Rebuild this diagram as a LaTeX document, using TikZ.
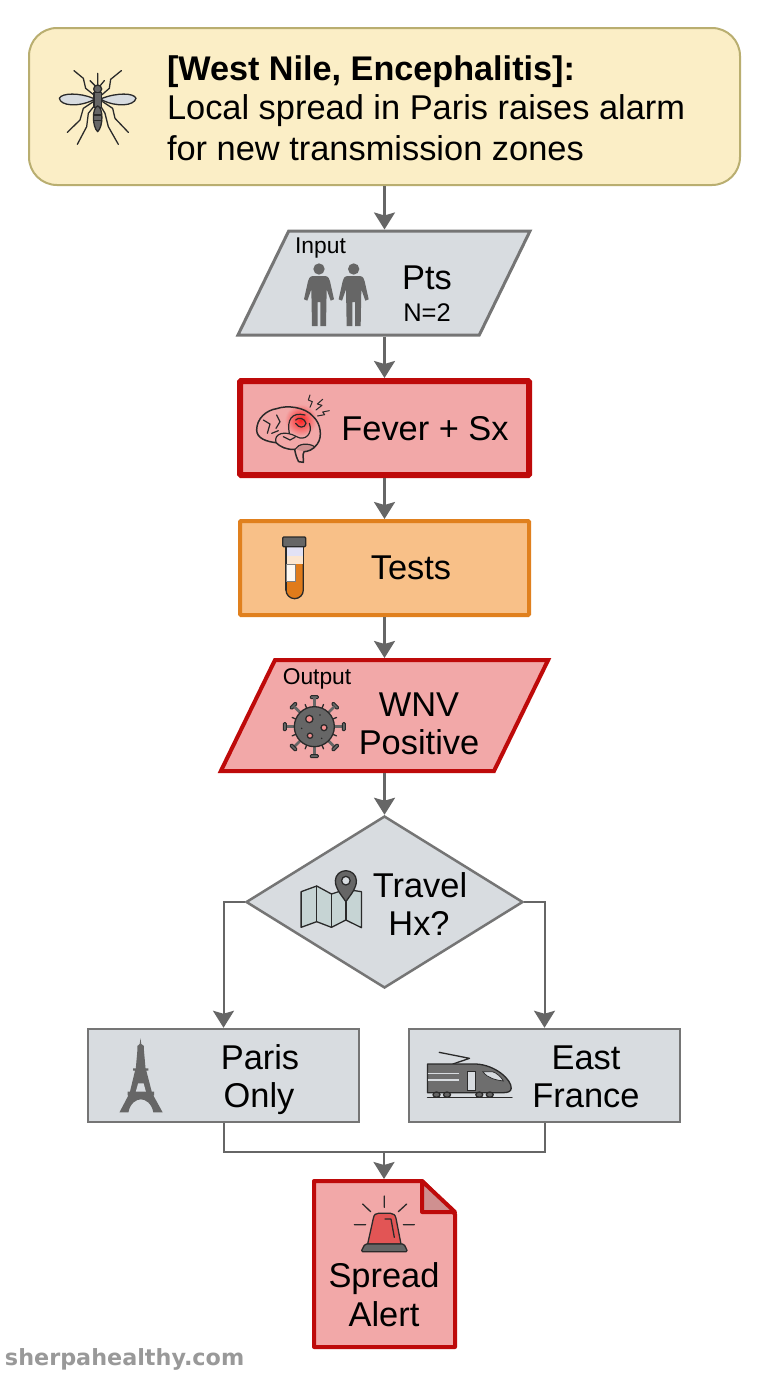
\documentclass[tikz,border=0pt]{standalone}
\usepackage{fontspec}
\setmainfont{Liberation Sans}
\newfontfamily\markfont{DejaVu Sans}
\usetikzlibrary{arrows.meta,shapes.geometric}
\definecolor{hdrfill}{HTML}{FBEEC6}
\definecolor{hdrline}{HTML}{B9AE70}
\definecolor{greyfill}{HTML}{D8DCE0}
\definecolor{greyline}{HTML}{757575}
\definecolor{redfill}{HTML}{F2A8A8}
\definecolor{redline}{HTML}{BE0A0A}
\definecolor{orgfill}{HTML}{F8C088}
\definecolor{orgline}{HTML}{E0801E}
\definecolor{icongrey}{HTML}{666666}
\definecolor{iconink}{HTML}{2A2A2A}
\definecolor{linkgrey}{HTML}{666666}
\definecolor{foldfill}{HTML}{CF9090}
\definecolor{mapfill}{HTML}{C6D4D4}
\definecolor{tubefill}{HTML}{E07B1A}
\definecolor{domefill}{HTML}{E25555}
\definecolor{brainfill}{HTML}{F7C4C0}
\tikzset{
  x=1pt,y=-1pt,
  every node/.style={inner sep=0pt,outer sep=0pt,text=black},
  greybox/.style={rectangle,draw=greyline,fill=greyfill,line width=2.5pt,minimum width=271pt,minimum height=93pt,outer sep=1.25pt},
  redbox/.style={rectangle,draw=redline,fill=redfill,line width=6pt,minimum width=289pt,minimum height=94pt,outer sep=3pt,rounded corners=1pt},
  orgbox/.style={rectangle,draw=orgline,fill=orgfill,line width=4pt,minimum width=289pt,minimum height=94pt,outer sep=2pt,rounded corners=1pt},
  para/.style={trapezium,trapezium left angle=64,trapezium right angle=116},
  link/.style={draw=linkgrey,line width=2.5pt},
  thinlink/.style={draw=linkgrey,line width=2pt},
  tipped/.style={-{Stealth[length=17pt,width=21pt,inset=3pt]}},
  arrowlink/.style={link,tipped},
  big/.style={anchor=base,font=\fontsize{34.4}{40}\selectfont},
  small/.style={anchor=base,font=\fontsize{22.8}{28}\selectfont},
  ink/.style={draw=iconink,line width=1.3pt,line join=round,line cap=round},
}
\begin{document}
\begin{tikzpicture}
\useasboundingbox (0,0) rectangle (768,1376);
\fill[white] (0,0) rectangle (768,1376);
% nodes
\node[rectangle,rounded corners=28pt,draw=hdrline,fill=hdrfill,line width=2pt,minimum width=711pt,minimum height=157pt,outer sep=1pt] (hdr) at (384.5,106.5) {};
\node[para,draw=greyline,fill=greyfill,line width=3pt,outer sep=1.5pt] (input) at (384,283) {\phantom{\rule{190.6pt}{104pt}}};
\node[redbox] (fever) at (384.5,428) {};
\node[orgbox] (tests) at (384.5,568) {};
\node[para,draw=redline,fill=redfill,line width=4pt,outer sep=2pt] (output) at (384.5,715.5) {\phantom{\rule{219pt}{111pt}}};
\node[diamond,aspect=1.61,draw=greyline,fill=greyfill,line width=2.5pt,minimum width=277pt,minimum height=172pt,outer sep=1.25pt] (travel) at (384.5,902) {};
\node[greybox] (paris) at (223.5,1075.5) {};
\node[greybox] (east) at (544.5,1075.5) {};
\node[rectangle,minimum width=141pt,minimum height=167pt,outer sep=2pt] (alert) at (384.5,1264.5) {};
\coordinate (merge) at (384,1152);
% alert page
\draw[draw=redline,fill=redfill,line width=4pt,line join=round]
  (314,1181) -- (422,1181) -- (455,1214) -- (455,1347) -- (314,1347) -- cycle;
\draw[draw=redline,fill=foldfill,line width=4pt,line join=round]
  (422,1181) -- (422,1212) -- (455,1212) -- cycle;
% connectors
\draw[arrowlink] (hdr.south) -- (hdr.south |- input.north);
\draw[arrowlink] (input.south -| hdr.south) -- (fever.north -| hdr.south);
\draw[arrowlink] (fever.south) -- (tests.north);
\draw[arrowlink] (tests.south) -- (tests.south |- output.north);
\draw[arrowlink] (tests.south |- output.south) -- (travel.north);
\draw[thinlink,tipped] (travel.west) -| (paris.north);
\draw[thinlink,tipped] (travel.east) -| (east.north);
\draw[thinlink] (paris.south) |- (merge);
\draw[thinlink] (east.south) |- (merge);
\draw[arrowlink] (merge) -- (merge |- alert.north);
% header text
\node[anchor=base west,font=\bfseries\fontsize{34.2}{40}\selectfont] (h1) at (167,80) {[West Nile, Encephalitis]:};
\node[anchor=base west,font=\fontsize{34.4}{40}\selectfont] (h2) at (167,119.5) {Local spread in Paris raises alarm};
\node[anchor=base west,font=\fontsize{34.4}{40}\selectfont] (h3) at (167,160.5) {for new transmission zones};
% labels
\node[small] (t1) at (320.5,253) {Input};
\node[big] (t2) at (427,289) {Pts};
\node[anchor=base,font=\fontsize{25.5}{30}\selectfont] (t3) at (427,321) {N=2};
\node[big] (t4) at (425,440) {Fever + Sx};
\node[big] (t5) at (411,579) {Tests};
\node[small] (t6) at (317,684) {Output};
\node[big] (t7) at (419,716) {WNV};
\node[big] (t8) at (419,754) {Positive};
\node[big] (t9) at (420,897) {Travel};
\node[big] (t10) at (419,935) {Hx?};
\node[big] (t11) at (260,1069) {Paris};
\node[big] (t12) at (259,1107) {Only};
\node[big] (t13) at (586,1069) {East};
\node[big] (t14) at (586,1107) {France};
\node[big] (t15) at (384,1287) {Spread};
\node[big] (t16) at (384,1326) {Alert};
\node[anchor=base west,text=black!40,font=\markfont\bfseries\fontsize{22.3}{26}\selectfont] (wm) at (5,1365) {sherpahealthy.com};
% mosquito
\begin{scope}[shift={(20,20)},scale=1/3]
  \filldraw[ink,fill=greyfill] (220,235) .. controls (180,218) and (125,218) .. (118,235) .. controls (122,258) and (175,262) .. (220,240) -- cycle;
  \filldraw[ink,fill=greyfill] (246,235) .. controls (290,218) and (342,218) .. (348,235) .. controls (342,258) and (290,262) .. (246,240) -- cycle;
  \draw[ink] (162,152) -- (190,175) -- (197,205) -- (222,225);
  \draw[ink] (304,152) -- (272,178) -- (268,205) -- (245,225);
  \draw[ink] (142,337) -- (180,300) -- (190,265) -- (220,245);
  \draw[ink] (325,337) -- (285,295) -- (278,265) -- (248,245);
  \draw[ink] (172,373) -- (200,320) -- (205,280) -- (225,255);
  \draw[ink] (295,373) -- (265,320) -- (255,280) -- (240,255);
  \draw[ink] (233,160) -- (233,200) (210,182) -- (228,200) (253,182) -- (238,200);
  \filldraw[ink,fill=icongrey] (233,207) circle (12);
  \filldraw[ink,fill=icongrey] (222,218) rectangle (244,262);
  \filldraw[ink,fill=icongrey] (233,258) .. controls (216,262) and (216,320) .. (233,335) .. controls (250,320) and (250,262) .. (233,258) -- cycle;
  \draw[ink] (221,285) -- (245,285) (221,302) -- (245,302);
\end{scope}
% people
\begin{scope}[shift={(230,220)},scale=1/3]
  \foreach \dx in {0,104}{
    \begin{scope}[xshift=\dx pt]
      \fill[icongrey] (267,147) circle (17);
      \fill[icongrey] (248,168) -- (286,168) .. controls (296,170) and (298,176) .. (300,184) -- (312,238) -- (302,242) -- (290,208) -- (288,318) -- (271,318) -- (271,246) -- (263,246) -- (263,318) -- (246,318) -- (244,208) -- (232,242) -- (222,238) -- (234,184) .. controls (236,176) and (238,170) .. (248,168) -- cycle;
    \end{scope}
  }
\end{scope}
% brain
\begin{scope}[shift={(230,220)},scale=1/3]
  \shade[inner color=red!80!redfill,outer color=redfill] (212,600) circle (48);
  \fill[foldfill] (196,686) .. controls (205,672) and (235,668) .. (254,680) .. controls (240,694) and (215,698) .. (196,686) -- cycle;
  \draw[ink,line width=1.5pt] (80,630) .. controls (80,595) and (110,570) .. (140,566) .. controls (170,555) and (225,560) .. (250,590) .. controls (272,610) and (278,650) .. (262,672) .. controls (250,690) and (232,695) .. (222,695) .. controls (216,705) and (222,720) .. (220,727) -- (206,725) .. controls (200,715) and (196,700) .. (194,688) .. controls (170,690) and (150,680) .. (138,668) .. controls (110,665) and (80,655) .. (80,630) -- cycle;
  \draw[ink,line width=1.2pt]
    (178,640) .. controls (170,600) and (185,575) .. (225,585)
    (138,668) .. controls (130,640) and (165,630) .. (200,650) .. controls (225,665) and (250,640) .. (238,610)
    (195,688) .. controls (205,670) and (235,668) .. (254,680)
    (100,600) -- (120,612) -- (112,640) (140,585) -- (150,605) -- (138,625)
    (160,650) -- (180,660) -- (195,652) (125,640) -- (145,632)
    (197,600) .. controls (205,590) and (225,595) .. (228,610) .. controls (225,625) and (205,625) .. (197,610);
  \draw[ink,line width=1pt] (240,525) -- (235,540) -- (247,545) -- (240,562)
    (278,538) -- (262,552) -- (276,556) -- (258,570)
    (298,572) -- (278,576) -- (284,584) -- (262,588);
\end{scope}
% test tube
\begin{scope}[shift={(210,515)},scale=1/3]
  \filldraw[ink,fill=tubefill] (228,95) -- (280,95) -- (280,225) arc[start angle=0,end angle=180,radius=26] -- cycle;
  \filldraw[ink,fill=blue!8!white!92!gray] (228,95) rectangle (280,124);
  \fill[white!60!orgfill] (228,124) rectangle (280,148);
  \draw[ink] (228,124) -- (228,225) (280,124) -- (280,225);
  \filldraw[draw=black!50,fill=white!90!orgfill,line width=.6pt] (228,148) rectangle (255,198);
  \filldraw[ink,fill=icongrey,rounded corners=1pt] (218,66) rectangle (287,95);
\end{scope}
% virus
\begin{scope}[shift={(210,515)},scale=1/3]
  \foreach \a in {0,45,...,315}{
    \draw[draw=icongrey,line width=2.8pt] (313,635) ++(\a:55) -- ++(\a:30);
    \draw[ink,fill=icongrey,line width=1pt,rotate around={\a:(313,635)},rounded corners=1pt] (397,623) rectangle (406,647);
  }
  \foreach \a in {22.5,67.5,...,337.5}{
    \draw[ink] (313,635) ++(\a:58) -- ++(\a:14);
  }
  \filldraw[ink,fill=icongrey] (313,635) circle (60);
  \filldraw[ink,fill=redfill!85!red] (298,612) circle (11);
  \filldraw[ink,fill=redfill!85!red] (342,638) circle (9);
  \filldraw[ink,fill=redfill!85!red] (300,662) circle (8);
  \fill[iconink] (330,600) circle (2.5) (275,640) circle (2.5) (335,670) circle (2.5);
\end{scope}
% map
\begin{scope}[shift={(79.4,810)},xscale=.389,yscale=1/3]
  \filldraw[ink,fill=mapfill] (570,245) -- (610,228) -- (648,252) -- (685,238) -- (725,245) -- (725,353) -- (685,330) -- (648,352) -- (610,335) -- (570,352) -- cycle;
  \draw[ink] (610,228) -- (610,335) (648,252) -- (648,352) (685,275) -- (685,330);
  \filldraw[ink,fill=icongrey] (685,275) .. controls (670,250) and (658,235) .. (658,212) arc[start angle=180,end angle=360,x radius=27,y radius=30] .. controls (712,235) and (700,250) .. (685,275) -- cycle;
  \filldraw[ink,fill=greyfill] (685,212) ellipse (11 and 13);
\end{scope}
% Eiffel tower
\begin{scope}[shift={(79.4,810)},xscale=.389,yscale=1/3]
  \fill[icongrey] (157,685) -- (159,702) -- (166,708) -- (166,722) -- (170,775) -- (177,775) -- (177,782) -- (172,782) -- (186,845) -- (192,845) -- (192,856) -- (190,856) -- (214,907) -- (190,907) .. controls (186,880) and (170,868) .. (158,868) .. controls (146,868) and (130,880) .. (126,907) -- (103,907) -- (126,856) -- (124,856) -- (124,845) -- (130,845) -- (143,782) -- (138,782) -- (138,775) -- (145,775) -- (149,722) -- (149,708) -- (155,702) -- cycle;
  \fill[greyfill] (151,820) -- (165,820) -- (171,845) -- (145,845) -- cycle;
\end{scope}
% train
\begin{scope}[shift={(79.4,810)},xscale=.389,yscale=1/3]
  \draw[ink] (925,727) -- (1003,745) -- (960,762);
  \filldraw[ink,fill=icongrey!95!white] (895,762) -- (1020,762) .. controls (1070,765) and (1112,810) .. (1110,835) .. controls (1110,845) and (1100,848) .. (1090,848) -- (895,848) -- cycle;
  \draw[line width=1.4pt,draw=greyfill] (895,790) -- (975,790) (895,810) -- (975,810);
  \filldraw[draw=iconink,fill=greyfill,line width=.7pt] (996,785) rectangle (1017,840);
  \filldraw[draw=iconink,fill=greyfill,line width=.7pt] (1037,785) -- (1062,785) .. controls (1075,790) and (1085,803) .. (1090,813) .. controls (1070,810) and (1050,805) .. (1037,785) -- cycle;
  \foreach \wx in {918,945,1028,1055}{\filldraw[ink,fill=icongrey] (\wx,854) ellipse (9 and 8);}
  \draw[ink] (895,863) -- (1112,863);
\end{scope}
% alarm
\begin{scope}[shift={(0,1120)},scale=1/3]
  \filldraw[ink,fill=domefill] (1103,372) -- (1120,295) .. controls (1122,283) and (1128,280) .. (1135,280) -- (1172,280) .. controls (1180,280) and (1186,285) .. (1188,295) -- (1203,372) -- cycle;
  \filldraw[ink,fill=icongrey,rounded corners=1.5pt] (1083,395) -- (1095,372) -- (1212,372) -- (1223,395) -- cycle;
  \draw[ink] (1155,297) -- (1173,297) -- (1183,352);
  \draw[ink] (1153,228) -- (1153,262) (1088,252) -- (1112,275) (1220,252) -- (1195,275) (1063,314) -- (1097,314) (1210,314) -- (1243,314);
\end{scope}
\end{tikzpicture}
\end{document}
